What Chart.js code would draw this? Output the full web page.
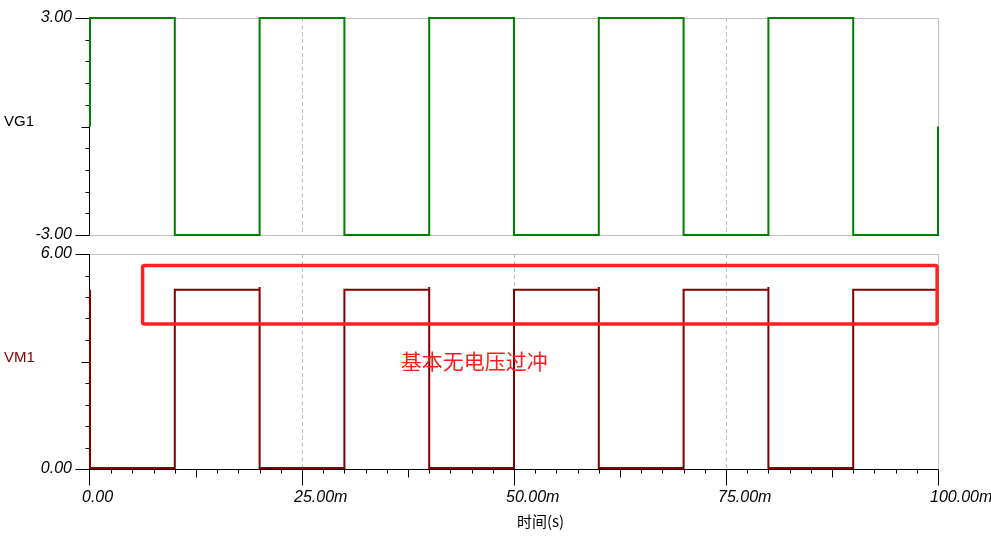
<!DOCTYPE html>
<html>
<head>
<meta charset="utf-8">
<script src="https://cdn.jsdelivr.net/npm/chart.js@4/dist/chart.umd.min.js"></script>
<style>
html,body{margin:0;padding:0;background:#fff;}
#wrap{position:relative;width:991px;height:537px;overflow:hidden;background:#fff;}
canvas{position:absolute;left:0;}
.lbl{position:absolute;font-family:"Liberation Sans",Arial,sans-serif;font-size:15px;line-height:20px;white-space:nowrap;}
</style>
</head>
<body>
<div id="wrap">
  <canvas id="c1" width="991" height="245" style="top:0px"></canvas>
  <canvas id="c2" width="991" height="297" style="top:240px"></canvas>
  <div class="lbl" style="left:4px;top:111px;color:#000">VG1</div>
  <div class="lbl" style="left:4px;top:347px;color:#800000">VM1</div>
  <div class="lbl" style="left:517px;top:511px;color:#000;font-family:'Noto Sans CJK SC','Liberation Sans',sans-serif">时间(s)</div>
</div>
<script>
// ---------------- data ----------------
const xRange = [0, 100];                 // time, ms
const xMajorTicks = [0, 25, 50, 75, 100]; // labelled ticks (ms)
const xDashedGrid = [25, 50, 75];
const vgRange = [-3, 3];
const vmRange = [0, 6];

// VG1 (value held from each point until the next one): time in ms, value in V
const vgTime = [0, 0, 10, 20, 30, 40, 50, 60, 70, 80, 90, 100, 100];
const vgVal  = [0, 3, -3, 3, -3, 3, -3, 3, -3, 3, -3, -3, 0];

// VM1
const vmTime = [0, 0, 10, 20, 20, 30, 40, 40, 50, 60, 60, 70, 80, 80, 90, 100];
const vmVal  = [5.0, 0.03, 5.0, 5.08, 0.03, 5.0, 5.08, 0.03, 5.0, 5.08, 0.03, 5.0, 5.08, 0.03, 5.0, 5.0];

// annotation (data coordinates of the bottom plot)
const annotBox = {x0: 6.2, x1: 99.9, y0: 4.05, y1: 5.68};
const annotText = '基本无电压过冲';
const annotPos = {x: 45.3, y: 3.0};

// ---------------- helpers ----------------
const tickFont = {family: "'Liberation Sans', Arial, sans-serif", size: 16, style: 'italic'};
const px = v => Math.round(v) + 0.5;

function framePlugin(isBottom) {
  return {
    id: 'frame' + (isBottom ? 'B' : 'T'),
    beforeDatasetsDraw(chart) {
      const {ctx, chartArea: a, scales: {x, y}} = chart;
      ctx.save();
      ctx.lineWidth = 1;
      ctx.strokeStyle = '#c0c0c0';
      ctx.beginPath();
      ctx.moveTo(a.left, px(a.top)); ctx.lineTo(a.right, px(a.top));
      ctx.moveTo(px(a.right), a.top); ctx.lineTo(px(a.right), a.bottom);
      if (!isBottom) { ctx.moveTo(a.left, px(a.bottom)); ctx.lineTo(a.right, px(a.bottom)); }
      ctx.stroke();
      ctx.setLineDash([4, 3]);
      ctx.beginPath();
      xDashedGrid.forEach(v => {
        const xp = px(x.getPixelForValue(v));
        ctx.moveTo(xp, a.top); ctx.lineTo(xp, a.bottom);
      });
      ctx.stroke();
      ctx.setLineDash([]);
      ctx.strokeStyle = '#000';
      ctx.beginPath();
      const lx = px(a.left) - 1;
      ctx.moveTo(lx, a.top); ctx.lineTo(lx, a.bottom + 0.5);
      const [ymin, ymax] = isBottom ? vmRange : vgRange;
      for (let i = 0; i <= 10; i++) {
        const v = ymin + i * (ymax - ymin) / 10;
        const yp = px(y.getPixelForValue(v));
        const len = (i === 0 || i === 10) ? 14 : (i === 5 ? 8 : 4);
        ctx.moveTo(lx - len, yp); ctx.lineTo(lx, yp);
      }
      if (isBottom) {
        const by = px(a.bottom);
        ctx.moveTo(lx, by); ctx.lineTo(a.right + 0.5, by);
        for (let i = 0; i <= 40; i++) {
          const v = xRange[0] + i * (xRange[1] - xRange[0]) / 40;
          const xp = px(x.getPixelForValue(v)) - (i === 0 ? 1 : 0);
          const len = (i % 10 === 0) ? 16 : (i % 5 === 0 ? 8 : 4);
          ctx.moveTo(xp, by); ctx.lineTo(xp, by + len);
        }
      }
      ctx.stroke();
      ctx.restore();
    },
    afterDatasetsDraw(chart) {
      if (!isBottom) return;
      const {ctx, scales: {x, y}} = chart;
      ctx.save();
      const x0 = x.getPixelForValue(annotBox.x0), x1 = x.getPixelForValue(annotBox.x1);
      const y0 = y.getPixelForValue(annotBox.y1), y1 = y.getPixelForValue(annotBox.y0);
      ctx.strokeStyle = '#ff2020';
      ctx.lineWidth = 3.5;
      ctx.lineJoin = 'round';
      ctx.beginPath();
      if (ctx.roundRect) ctx.roundRect(x0, y0, x1 - x0, y1 - y0, 2); else ctx.rect(x0, y0, x1 - x0, y1 - y0);
      ctx.stroke();
      ctx.fillStyle = '#ff1a1a';
      ctx.font = "21px 'Noto Sans CJK SC', sans-serif";
      ctx.textAlign = 'center';
      ctx.textBaseline = 'middle';
      ctx.fillText(annotText, x.getPixelForValue(annotPos.x), y.getPixelForValue(annotPos.y));
      ctx.restore();
    }
  };
}

function yScale(range) {
  return {
    type: 'linear', position: 'left', min: range[0], max: range[1],
    grid: {display: false, drawTicks: false},
    border: {display: false},
    afterBuildTicks: s => { s.ticks = [{value: range[0]}, {value: range[1]}]; },
    afterFit: s => { s.width = 90; s.paddingTop = 0; s.paddingBottom = 0; },
    ticks: {
      font: tickFont, color: '#000', padding: 18,
      callback: v => Number(v).toFixed(2)
    }
  };
}

const common = {
  responsive: false, animation: false, events: [],
  plugins: {legend: {display: false}, tooltip: {enabled: false}, title: {display: false}}
};

new Chart(document.getElementById('c1'), {
  type: 'line',
  data: {datasets: [{
    data: vgTime.map((t, i) => ({x: t, y: vgVal[i]})),
    stepped: 'before', borderColor: '#008000', borderWidth: 2, pointRadius: 0, clip: false, fill: false
  }]},
  options: Object.assign({}, common, {
    layout: {padding: {left: 0, right: 53, top: 18, bottom: 10}},
    scales: {
      x: {type: 'linear', min: xRange[0], max: xRange[1], display: false},
      y: yScale(vgRange)
    }
  }),
  plugins: [framePlugin(false)]
});

new Chart(document.getElementById('c2'), {
  type: 'line',
  data: {datasets: [{
    data: vmTime.map((t, i) => ({x: t, y: vmVal[i]})),
    stepped: 'before', borderColor: '#800000', borderWidth: 2, pointRadius: 0, clip: false, fill: false
  }]},
  options: Object.assign({}, common, {
    layout: {padding: {left: 0, right: 53, top: 14, bottom: 0}},
    scales: {
      x: {
        type: 'linear', position: 'bottom', min: xRange[0], max: xRange[1],
        grid: {display: false, drawTicks: false},
        border: {display: false},
        afterBuildTicks: s => { s.ticks = xMajorTicks.map(v => ({value: v})); },
        afterFit: s => { s.height = 68; s.paddingLeft = 0; s.paddingRight = 0; },
        ticks: {
          font: tickFont, color: '#000', padding: 19, align: 'start', labelOffset: -8,
          maxRotation: 0, autoSkip: false,
          callback: v => v === 0 ? '0.00' : Number(v).toFixed(2) + 'm'
        }
      },
      y: yScale(vmRange)
    }
  }),
  plugins: [framePlugin(true)]
});
</script>
</body>
</html>
